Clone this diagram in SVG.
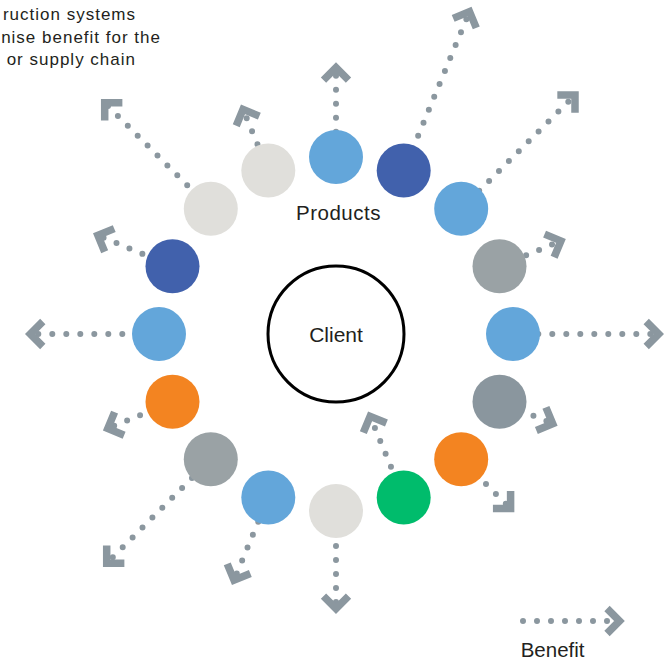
<svg xmlns="http://www.w3.org/2000/svg" width="667" height="662" viewBox="0 0 667 662">
<style>
.t{font-family:"Liberation Sans",Arial,sans-serif;fill:#231f20}
.lb{fill:#63a6da}.db{fill:#4161ac}.lg{fill:#e0dfdb}.gr{fill:#9aa2a5}.sl{fill:#8a969e}.or{fill:#f38421}.gn{fill:#00bc6c}
.ar{fill:none;stroke:#8b979f;stroke-width:6;stroke-linecap:round;stroke-dasharray:0 14;marker-end:url(#chev)}
</style>
<defs>
<marker id="chev" markerUnits="userSpaceOnUse" markerWidth="40" markerHeight="40" viewBox="-20 -20 40 40" refX="0" refY="0" orient="auto" overflow="visible">
<path d="M-12.5,-12.5 L0,0 L-12.5,12.5" fill="none" stroke="#8b979f" stroke-width="7.5" stroke-linejoin="miter" stroke-dasharray="none"/>
</marker>
</defs>
<rect width="667" height="662" fill="#fff"/>
<g id="intro-text" class="t" font-size="17" letter-spacing="1" text-anchor="end">
<text x="136" y="20">ruction systems</text>
<text x="161" y="42.5">nise benefit for the</text>
<text x="136" y="65">or supply chain</text>
</g>
<g id="connectors">
<path class="ar" d="M336,131.7 L336,67.6"/>
<path class="ar" d="M412.8,148.6 L469.5,11.6"/>
<path class="ar" d="M479.2,190.8 L575,95"/>
<path class="ar" d="M513.2,260.6 L560.9,240.9"/>
<path class="ar" d="M538.3,334 L658.7,334"/>
<path class="ar" d="M520.5,410.4 L552.7,423.7"/>
<path class="ar" d="M476.1,474.1 L510.6,508.6"/>
<path class="ar" d="M396.3,479.7 L370.1,416.3"/>
<path class="ar" d="M336,532 L336,608.7"/>
<path class="ar" d="M263.6,508.8 L234,580.2"/>
<path class="ar" d="M201.9,468.1 L106.7,563.3"/>
<path class="ar" d="M153,409.8 L107.8,428.5"/>
<path class="ar" d="M136.3,334 L30.3,334"/>
<path class="ar" d="M155.3,259.2 L97.9,235.4"/>
<path class="ar" d="M197.1,195.1 L104.7,102.7"/>
<path class="ar" d="M262.8,157.1 L243,109.4"/>
</g>
<g id="node-client">
<circle cx="336" cy="334" r="68" fill="#fff" stroke="#000" stroke-width="3"/>
<text class="t" x="336" y="341.7" font-size="21" text-anchor="middle">Client</text>
</g>
<g id="node-1"><circle class="lb" cx="336" cy="157" r="27"/></g>
<g id="node-2"><circle class="db" cx="403.7" cy="170.5" r="27"/></g>
<g id="node-3"><circle class="lb" cx="461.2" cy="208.8" r="27"/></g>
<g id="node-4"><circle class="gr" cx="499.5" cy="266.3" r="27"/></g>
<g id="node-5"><circle class="lb" cx="513" cy="334" r="27"/></g>
<g id="node-6"><circle class="sl" cx="499.5" cy="401.7" r="27"/></g>
<g id="node-7"><circle class="or" cx="461.2" cy="459.2" r="27"/></g>
<g id="node-8"><circle class="gn" cx="403.7" cy="497.5" r="27"/></g>
<g id="node-9"><circle class="lg" cx="336" cy="511" r="27"/></g>
<g id="node-10"><circle class="lb" cx="268.3" cy="497.5" r="27"/></g>
<g id="node-11"><circle class="gr" cx="210.8" cy="459.2" r="27"/></g>
<g id="node-12"><circle class="or" cx="172.5" cy="401.7" r="27"/></g>
<g id="node-13"><circle class="lb" cx="159" cy="334" r="27"/></g>
<g id="node-14"><circle class="db" cx="172.5" cy="266.3" r="27"/></g>
<g id="node-15"><circle class="lg" cx="210.8" cy="208.8" r="27"/></g>
<g id="node-16"><circle class="lg" cx="268.3" cy="170.5" r="27"/></g>
<g id="label-products"><text class="t" x="338.5" y="220" font-size="20.5" letter-spacing="0.5" text-anchor="middle">Products</text></g>
<g id="legend">
<path class="ar" d="M523,621 L619.5,621"/>
<text class="t" x="520.7" y="657" font-size="20.5">Benefit</text>
</g>
</svg>
